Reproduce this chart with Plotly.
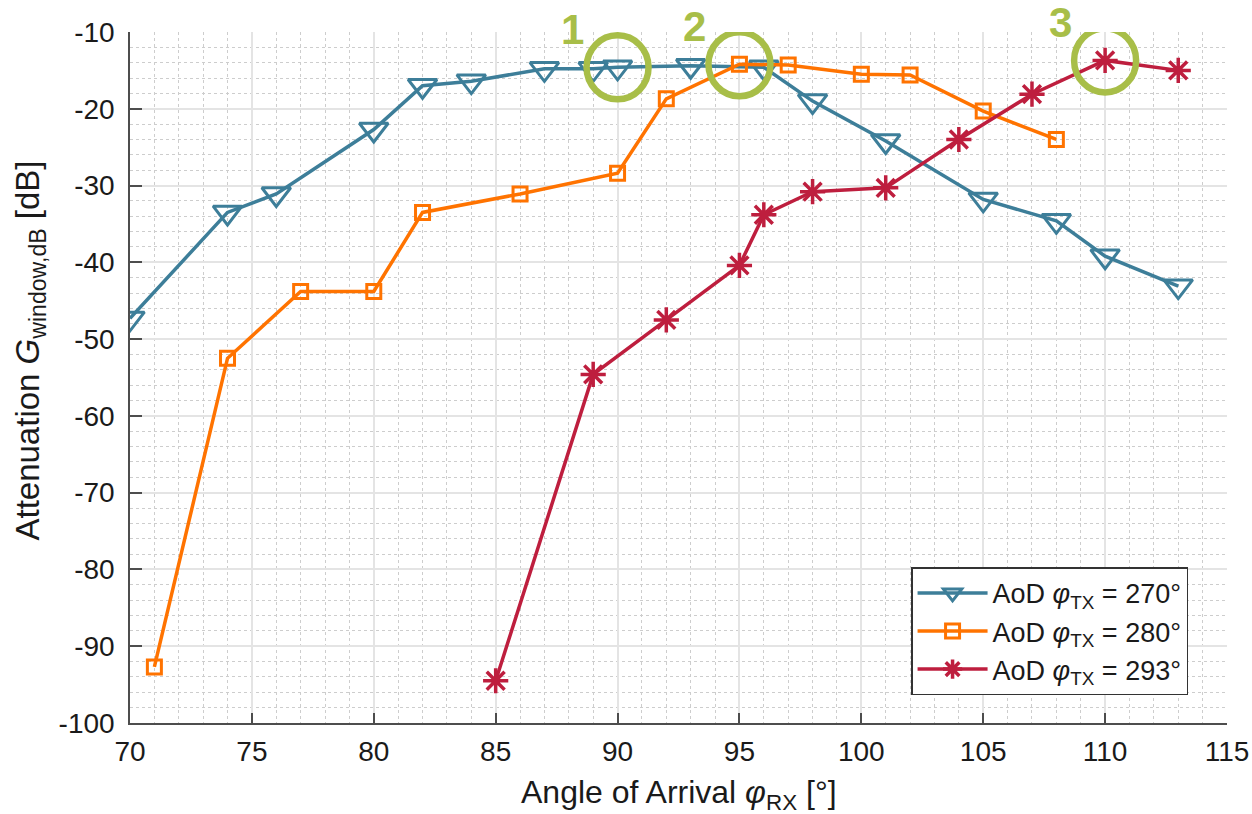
import plotly.graph_objects as go

# ---- data ----
x_270 = [70, 74, 76, 80, 82, 84, 87, 89, 90, 93, 96, 98, 101, 105, 108, 110, 113]
y_270 = [-47.3, -33.5, -31.1, -22.7, -17.0, -16.4, -14.8, -14.8, -14.6, -14.4, -14.6, -19.0, -24.2, -31.8, -34.6, -39.2, -43.1]

x_280 = [71, 74, 77, 80, 82, 86, 90, 92, 95, 97, 100, 102, 105, 108]
y_280 = [-92.7, -52.5, -43.8, -43.8, -33.5, -31.1, -28.4, -18.7, -14.2, -14.3, -15.5, -15.6, -20.3, -24.0]

x_293 = [85, 89, 92, 95, 96, 98, 101, 104, 107, 110, 113]
y_293 = [-94.5, -54.6, -47.5, -40.4, -33.8, -30.8, -30.3, -24.0, -18.1, -13.7, -15.0]

series_names = ["AoD <i>φ</i><sub>TX</sub> = 270°",
                "AoD <i>φ</i><sub>TX</sub> = 280°",
                "AoD <i>φ</i><sub>TX</sub> = 293°"]

x_title = "Angle of Arrival <i>φ</i><sub>RX</sub> [°]"
y_title = "Attenuation <i>G</i><sub>window,dB</sub> [dB]"

# highlighted points (label, x, y)
highlight_labels = ["1", "2", "3"]
highlight_x = [90, 95, 110]
highlight_y = [-14.6, -14.2, -13.7]

x_ticks = [70, 75, 80, 85, 90, 95, 100, 105, 110, 115]
y_ticks = [-100, -90, -80, -70, -60, -50, -40, -30, -20, -10]
x_ticklabels = [str(v) for v in x_ticks]
y_ticklabels = [str(v) for v in y_ticks]

# ---- style ----
C_BLUE = "#3D7E99"
C_ORANGE = "#FF7300"
C_RED = "#BE1E3E"
C_GREEN = "#A8BE48"
FONT = "Liberation Sans, Arial, sans-serif"
TXT = "#1A1A1A"

fig = go.Figure()
fig.add_trace(go.Scatter(
    x=x_270, y=y_270, name=series_names[0], mode="lines+markers",
    line=dict(color=C_BLUE, width=3.5),
    marker=dict(symbol="triangle-down-open", size=25, color=C_BLUE, line=dict(width=3, color=C_BLUE))))
fig.add_trace(go.Scatter(
    x=x_280, y=y_280, name=series_names[1], mode="lines+markers",
    line=dict(color=C_ORANGE, width=3.5),
    marker=dict(symbol="square-open", size=14, color=C_ORANGE, line=dict(width=3, color=C_ORANGE))))
fig.add_trace(go.Scatter(
    x=x_293, y=y_293, name=series_names[2], mode="lines+markers",
    line=dict(color=C_RED, width=3.5),
    marker=dict(symbol="asterisk-open", size=21, color=C_RED, line=dict(width=3.5, color=C_RED))))

for lab, hx, hy in zip(highlight_labels, highlight_x, highlight_y):
    fig.add_shape(type="circle", xref="x", yref="y", xsizemode="pixel", ysizemode="pixel",
                  xanchor=hx, yanchor=hy, x0=-31, x1=31, y0=-32, y1=32,
                  line=dict(color=C_GREEN, width=6.5), layer="above")
    fig.add_annotation(x=hx, y=hy, xref="x", yref="y", text="<b>%s</b>" % lab,
                       showarrow=False, xshift=-45, yshift=38,
                       font=dict(family=FONT, size=42, color=C_GREEN))

# axis titles placed as annotations for precise positioning
fig.add_annotation(x=0.5, y=0, xref="paper", yref="paper", text=x_title,
                   showarrow=False, xanchor="center", yanchor="middle", yshift=-71,
                   font=dict(family=FONT, size=32, color=TXT))
fig.add_annotation(x=0, y=0.539, xref="paper", yref="paper", text=y_title,
                   showarrow=False, xanchor="center", yanchor="middle", xshift=-100,
                   textangle=-90, font=dict(family=FONT, size=33, color=TXT))

axis_common = dict(
    showline=True, linecolor="#4D4D4D", linewidth=1.5,
    ticks="inside", tickcolor="#4D4D4D", tickwidth=1.5,
    showgrid=True, gridcolor="#E4E4E4", gridwidth=1.5,
    zeroline=False, mirror=False, automargin=False,
    tickfont=dict(family=FONT, size=28, color=TXT),
)

fig.update_xaxes(
    range=[70, 115], tickvals=x_ticks, ticktext=x_ticklabels, ticklen=10,
    minor=dict(dtick=1, showgrid=True, gridcolor="#CDCDCD", griddash="dot", gridwidth=1, ticks=""),
    ticklabelstandoff=3,
    **axis_common)
fig.update_yaxes(
    range=[-100, -10], tickvals=y_ticks, ticktext=y_ticklabels, ticklen=12,
    minor=dict(dtick=2, showgrid=True, gridcolor="#CDCDCD", griddash="dot", gridwidth=1, ticks=""),
    ticklabelstandoff=8,
    **axis_common)

fig.update_layout(
    width=1252, height=814,
    margin=dict(l=130, r=25, t=32, b=91),
    plot_bgcolor="white", paper_bgcolor="white",
    showlegend=True,
    legend=dict(x=0.712, y=0.04, xanchor="left", yanchor="bottom",
                bgcolor="white", bordercolor="#333333", borderwidth=1.5,
                font=dict(family=FONT, size=27, color=TXT),
                itemwidth=70, tracegroupgap=0),
)

fig.write_html("out.html", config={"displayModeBar": False},
               post_script="document.body.style.margin='0';")
